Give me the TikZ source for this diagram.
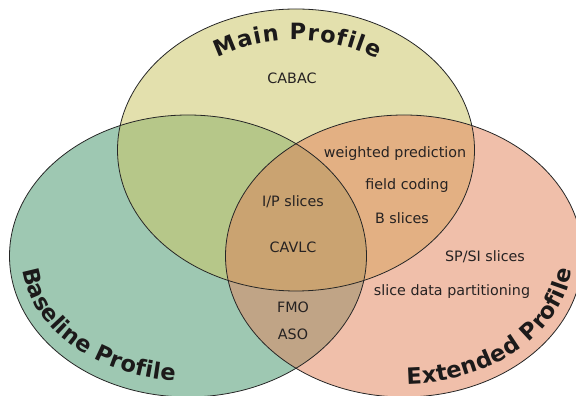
\documentclass[tikz,border=0pt]{standalone}
\usepackage{fontspec}
\setmainfont{DejaVu Sans}
\usetikzlibrary{decorations.text,calc}
\definecolor{cMain}{HTML}{E3E0AD}
\definecolor{cBase}{HTML}{9EC8B2}
\definecolor{cExt}{HTML}{F0BFAA}
\definecolor{cMB}{HTML}{B6C789}
\definecolor{cME}{HTML}{E3B083}
\definecolor{cMBE}{HTML}{CAA371}
\definecolor{cBE}{HTML}{C0A486}
\definecolor{txt}{HTML}{262222}
\definecolor{ttl}{HTML}{1C1A1A}
\newcommand\ttlfont{\fontsize{22.5}{26}\selectfont\bfseries}
\begin{document}
\begin{tikzpicture}[x=1pt,y=1pt,
  lbl/.style={font=\fontsize{14.3}{16}\selectfont, text=txt, anchor=base, inner sep=0pt},
  outline/.style={draw=black!85, line width=0.8pt},
  setsize/.style={x radius=178.5pt, y radius=141pt},
  titlepath/.style={decorate, decoration={text along path, text align={fit to path}, text color=ttl, text={|\ttlfont|#1}}}]
\useasboundingbox (0,0) rectangle (576,396);
\coordinate (M) at (296,246);
\coordinate (B) at (188,140);
\coordinate (E) at (404,140);
% single regions
\fill[cBase] (B) ellipse[setsize];
\fill[cExt] (E) ellipse[setsize];
\fill[cMain] (M) ellipse[setsize];
% Baseline & Extended
\begin{scope}
  \clip (B) ellipse[setsize];
  \fill[cBE] (E) ellipse[setsize];
\end{scope}
% Main & Baseline / Main & Extended / all three
\begin{scope}
  \clip (M) ellipse[setsize];
  \fill[cMB] (B) ellipse[setsize];
  \fill[cME] (E) ellipse[setsize];
  \clip (B) ellipse[setsize];
  \fill[cMBE] (E) ellipse[setsize];
\end{scope}
% outlines
\draw[outline] (B) ellipse[setsize];
\draw[outline] (E) ellipse[setsize];
\draw[outline] (M) ellipse[setsize];
% titles
\path[titlepath={Main Profile}] ($(M)+(122.9:145pt and 110pt)$) arc[start angle=122.9, end angle=56, x radius=145pt, y radius=110pt];
\path[titlepath={Baseline Profile}] ($(B)+(186.4:166pt and 125pt)$) arc[start angle=186.4, end angle=265.5, x radius=166pt, y radius=125pt];
\path[titlepath={Extended Profile}] ($(E)+(271:169pt and 128pt)$) arc[start angle=271, end angle=353.7, x radius=169pt, y radius=128pt];
% labels
\node[lbl] (cabac) at (292,312) {CABAC};
\node[lbl] (wp) at (395,238) {weighted prediction};
\node[lbl] (fc) at (407,206) {field coding};
\node[lbl] (bs) at (402,172) {B slices};
\node[lbl] (ip) at (293,189) {I/P slices};
\node[lbl] (cavlc) at (293,143) {CAVLC};
\node[lbl] (spsi) at (485,134) {SP/SI slices};
\node[lbl] (sdp) at (452,100) {slice data partitioning};
\node[lbl] (fmo) at (293,83) {FMO};
\node[lbl] (aso) at (293,56) {ASO};
\end{tikzpicture}
\end{document}
